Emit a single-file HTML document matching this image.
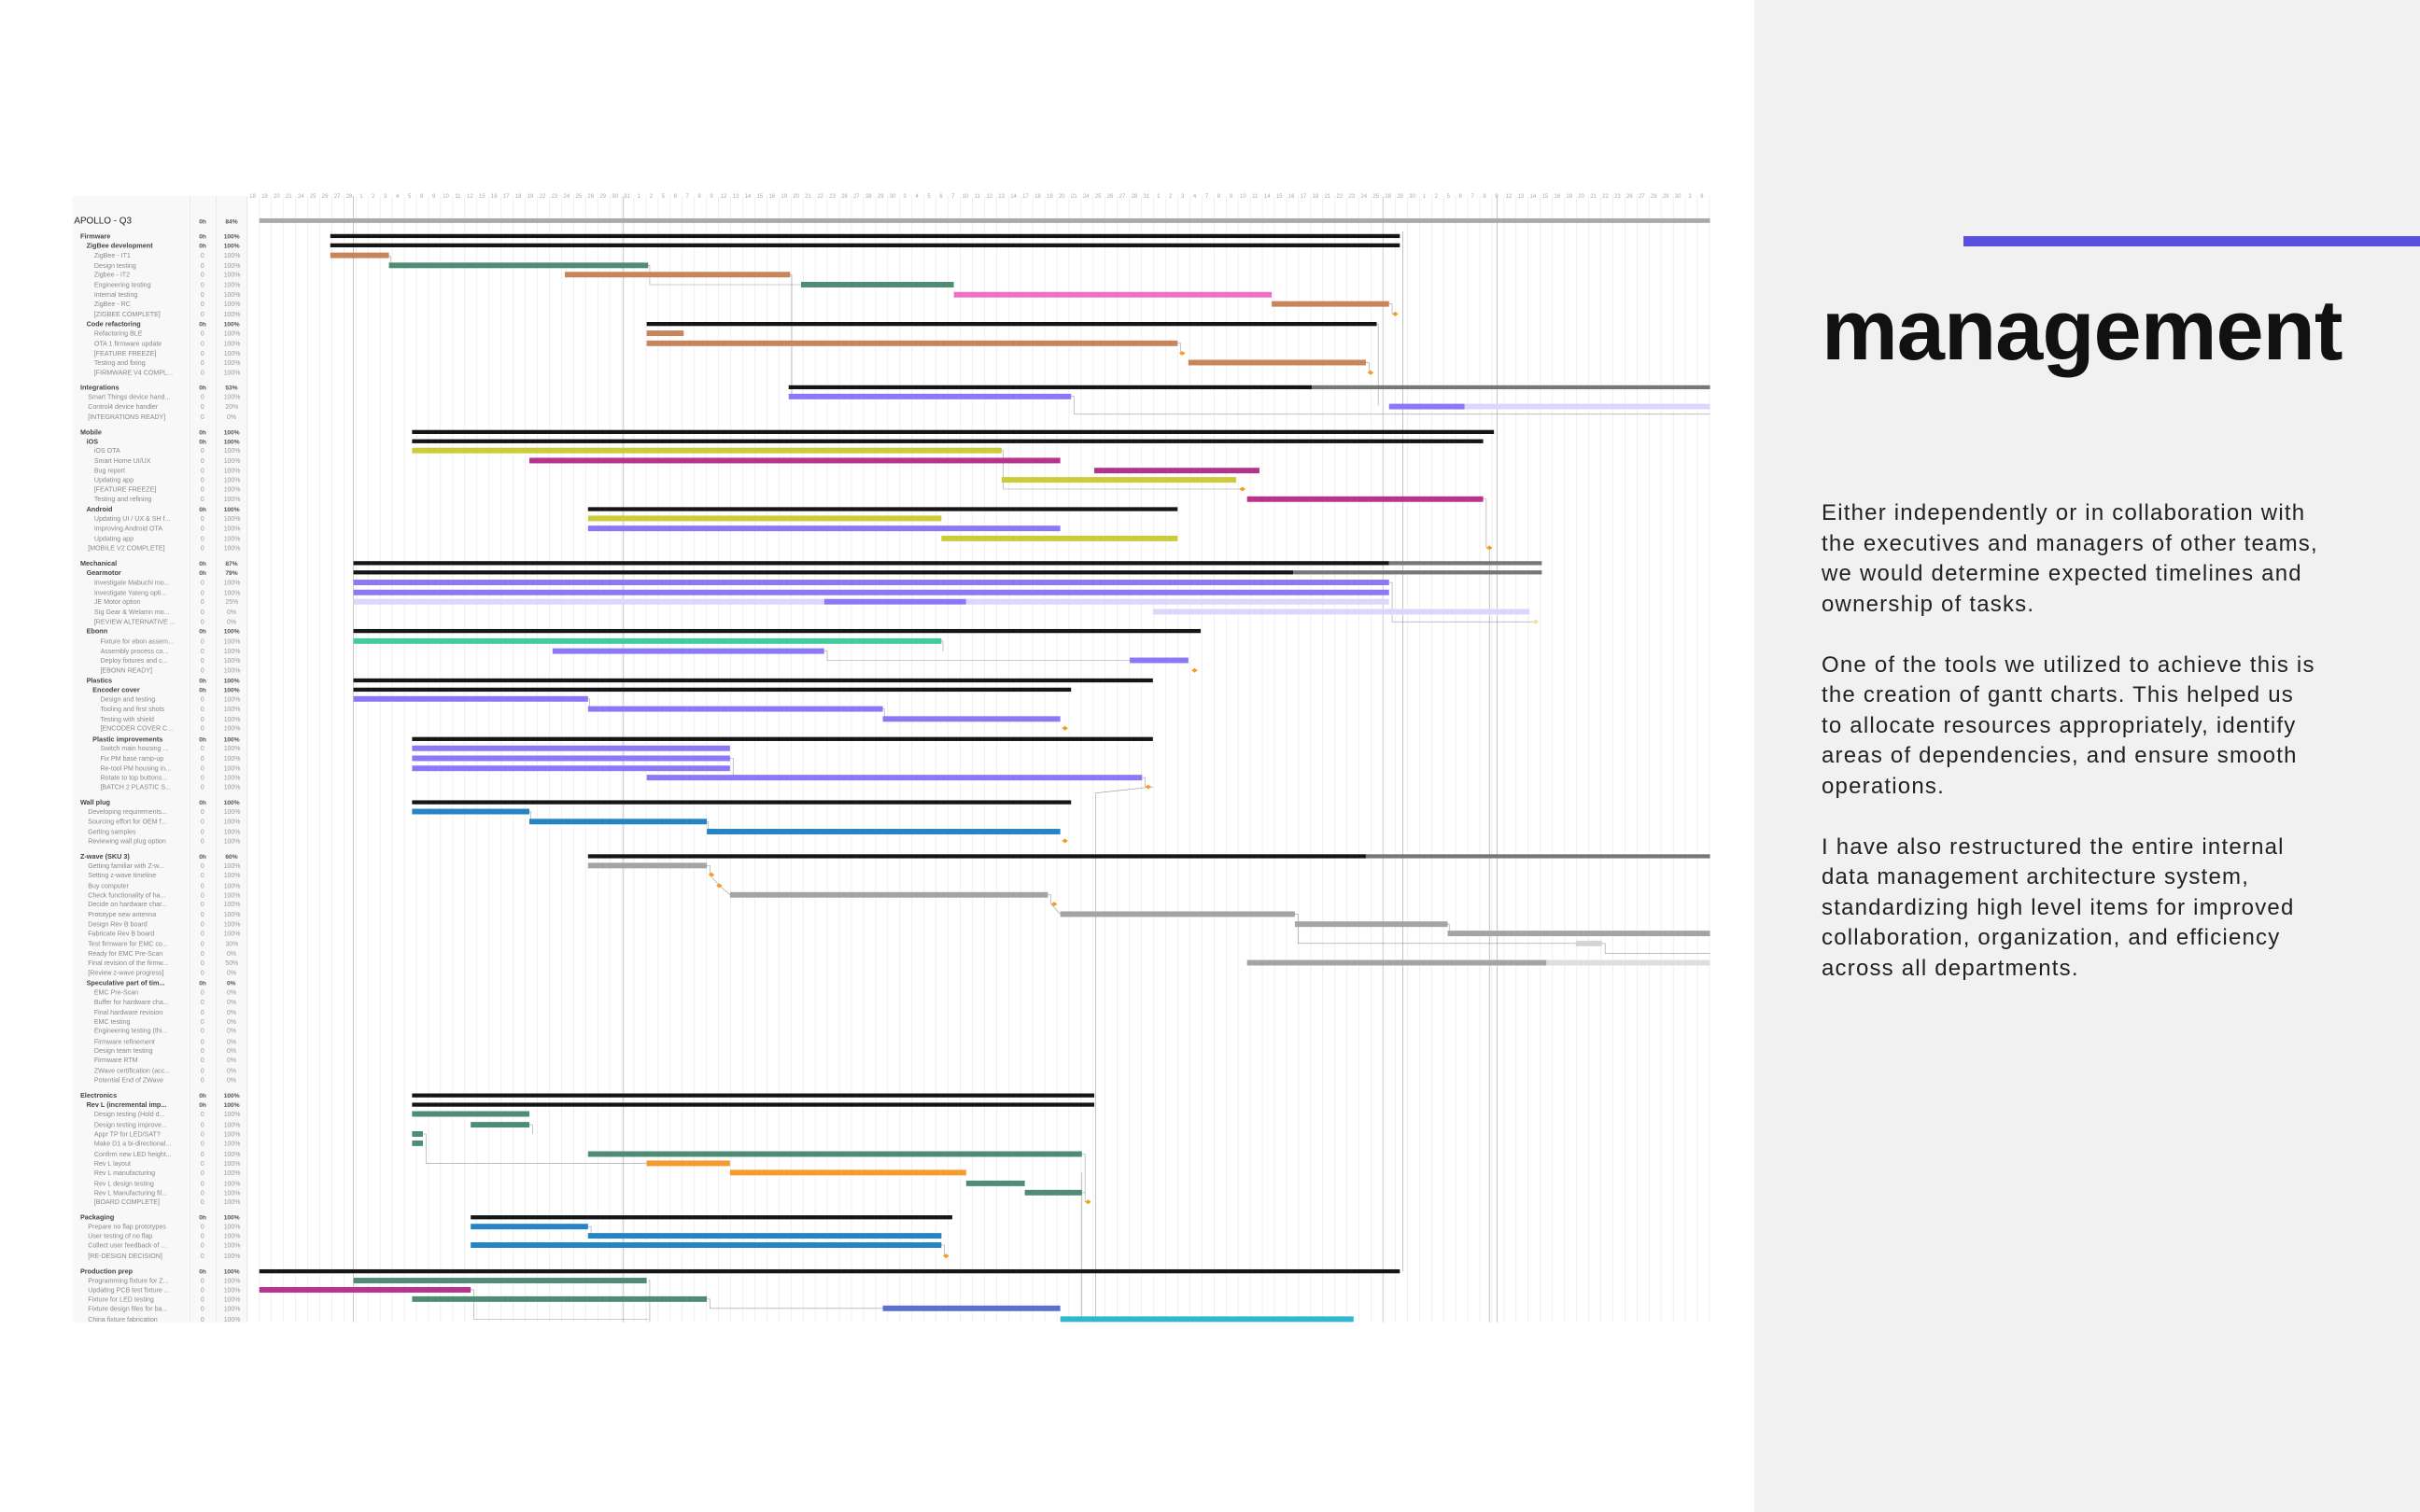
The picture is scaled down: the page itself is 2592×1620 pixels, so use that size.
<!DOCTYPE html>
<html><head><meta charset="utf-8">
<style>
html,body{margin:0;padding:0;}
body{width:2592px;height:1620px;position:relative;background:#fff;overflow:hidden;font-family:"Liberation Sans",sans-serif;}
#panel{position:absolute;left:1879px;top:0;width:713px;height:1620px;background:#f1f1f1;}
#bar{position:absolute;left:2103px;top:253px;width:489px;height:11px;background:#5a4fe0;}
#h{position:absolute;left:1951px;top:308px;font-size:92px;line-height:92px;font-weight:bold;letter-spacing:-1px;color:#111;white-space:nowrap;}
#t{position:absolute;left:1951px;top:534px;font-size:24px;line-height:32.5px;letter-spacing:1.2px;color:#222;white-space:nowrap;}
#days{position:absolute;left:264px;top:208px;display:flex;font-size:6px;color:#aaa;}
#days span{display:block;width:12.95px;text-align:center;}
svg{position:absolute;left:0;top:0;}
.g{font-size:4.4px;font-weight:bold;fill:#444;}
.s{font-size:4.3px;fill:#888;}
.n{font-size:4.2px;fill:#999;}
</style></head><body>
<svg width="2592" height="1620" viewBox="0 0 1568 980">
<defs>
<pattern id="grid" patternUnits="userSpaceOnUse" x="160" y="0" width="7.83" height="10"><line x1="0.2" y1="0" x2="0.2" y2="10" stroke="#e4e4e4" stroke-width="0.35"/></pattern>
</defs>
<rect x="47" y="127" width="113" height="730" fill="#f8f8f8"/>
<line x1="123" y1="127" x2="123" y2="857" stroke="#e2e2e2" stroke-width="0.4"/>
<line x1="140" y1="127" x2="140" y2="857" stroke="#e2e2e2" stroke-width="0.4"/>
<line x1="160" y1="127" x2="160" y2="857" stroke="#e2e2e2" stroke-width="0.4"/>
<rect x="160" y="127" width="948" height="730" fill="url(#grid)"/>
<line x1="229" y1="127" x2="229" y2="857" stroke="#aaa" stroke-width="0.4"/>
<line x1="404" y1="127" x2="404" y2="857" stroke="#aaa" stroke-width="0.4"/>
<line x1="970" y1="127" x2="970" y2="857" stroke="#aaa" stroke-width="0.4"/>
<line x1="896" y1="127" x2="896" y2="857" stroke="#bbb" stroke-width="0.4"/>
<g stroke="#999" stroke-width="0.35" fill="none">
<polyline points="252,166 253,166 253,172"/>
<polyline points="420,172 421,172 421,184.5 519,184.5"/>
<polyline points="512,178 513,178 513,257"/>
<polyline points="694,257 696,257 696,268.5 1108,268.5"/>
<polyline points="900,197 902,197 902,203.5"/>
<polyline points="909,150 909,824"/>
<polyline points="892,210 893,210 893,263"/>
<polyline points="763,222.5 765,222.5 765,229"/>
<polyline points="885,235 887,235 887,241.5"/>
<polyline points="649,292 650,292 650,317 805,317"/>
<polyline points="961,323.5 963,323.5 963,355 965,355 965,857"/>
<polyline points="900,377.5 902,377.5 902,403 995,403"/>
<polyline points="610,415.5 611,415.5 611,422"/>
<polyline points="534,422 536,422 536,428 732,428"/>
<polyline points="381,453 382,453 382,459.5"/>
<polyline points="572,459.5 573,459.5 573,466"/>
<polyline points="473,491.5 475,491.5 475,504"/>
<polyline points="740,504 742,504 742,510"/>
<polyline points="747,510 710,514 710,857"/>
<polyline points="343,526 344,526 344,532.5"/>
<polyline points="458,532.5 459,532.5 459,539"/>
<polyline points="458,561 460,561 460,567 466,574 473,580"/>
<polyline points="679,580 681,580 681,586 687,592.5"/>
<polyline points="839,592.5 841,592.5 841,611.5 1021,611.5"/>
<polyline points="938,599 939,599 939,605"/>
<polyline points="1038,611.5 1040,611.5 1040,618 1108,618"/>
<polyline points="274,735 276,735 276,754 419,754"/>
<polyline points="701,748 703,748 703,779"/>
<polyline points="701,773 703,773"/>
<polyline points="343,729 345,729 345,735"/>
<polyline points="381,795 383,795 383,801"/>
<polyline points="610,807 612,807 612,814"/>
<polyline points="305,836 307,836 307,855 420,855"/>
<polyline points="458,842 460,842 460,848 572,848"/>
<polyline points="420,830 421,830 421,857"/>
<polyline points="701,760 701,857"/>
</g>
<rect x="168" y="141.5" width="940" height="3" fill="#aaa"/>
<g fill="#151515">
<rect x="214" y="151.7" width="693" height="2.6"/>
<rect x="214" y="157.7" width="693" height="2.6"/>
<rect x="419" y="208.7" width="473" height="2.6"/>
<rect x="511" y="249.7" width="339" height="2.6"/>
<rect x="267" y="278.7" width="701" height="2.6"/>
<rect x="267" y="284.7" width="694" height="2.6"/>
<rect x="381" y="328.7" width="382" height="2.6"/>
<rect x="229" y="363.7" width="671" height="2.6"/>
<rect x="229" y="369.7" width="609" height="2.6"/>
<rect x="229" y="407.7" width="549" height="2.6"/>
<rect x="229" y="439.7" width="518" height="2.6"/>
<rect x="229" y="445.7" width="465" height="2.6"/>
<rect x="267" y="477.7" width="480" height="2.6"/>
<rect x="267" y="518.7" width="427" height="2.6"/>
<rect x="381" y="553.7" width="504" height="2.6"/>
<rect x="267" y="708.7" width="442" height="2.6"/>
<rect x="267" y="714.7" width="442" height="2.6"/>
<rect x="305" y="787.7" width="312" height="2.6"/>
<rect x="168" y="822.7" width="739" height="2.6"/>
</g>
<g fill="#777">
<rect x="850" y="249.7" width="258" height="2.6"/>
<rect x="900" y="363.7" width="99" height="2.6"/>
<rect x="838" y="369.7" width="161" height="2.6"/>
<rect x="885" y="553.7" width="223" height="2.6"/>
</g>
<g stroke-width="0.3">
<rect x="214" y="163.7" width="38" height="3.6" fill="#c8845a"/>
<rect x="252" y="170.2" width="168" height="3.6" fill="#4e8c74"/>
<rect x="366" y="176.2" width="146" height="3.6" fill="#c8845a"/>
<rect x="519" y="182.7" width="99" height="3.6" fill="#4e8c74"/>
<rect x="618" y="189.2" width="206" height="3.6" fill="#f070c8"/>
<rect x="824" y="195.2" width="76" height="3.6" fill="#c8845a"/>
<rect x="419" y="214.2" width="24" height="3.6" fill="#c8845a"/>
<rect x="419" y="220.7" width="344" height="3.6" fill="#c8845a"/>
<rect x="770" y="233.2" width="115" height="3.6" fill="#c8845a"/>
<rect x="511" y="255.2" width="183" height="3.6" fill="#8a78f5"/>
<rect x="900" y="261.7" width="49" height="3.6" fill="#8a78f5"/>
<rect x="949" y="261.7" width="159" height="3.6" fill="#dcd5fc"/>
<rect x="267" y="290.2" width="382" height="3.6" fill="#cccc3a"/>
<rect x="343" y="296.7" width="344" height="3.6" fill="#b8348c"/>
<rect x="709" y="303.2" width="107" height="3.6" fill="#b0348c"/>
<rect x="649" y="309.2" width="152" height="3.6" fill="#cccc3a"/>
<rect x="808" y="321.7" width="153" height="3.6" fill="#b8348c"/>
<rect x="381" y="334.2" width="229" height="3.6" fill="#cccc3a"/>
<rect x="381" y="340.7" width="306" height="3.6" fill="#8a78f5"/>
<rect x="610" y="347.2" width="153" height="3.6" fill="#cccc3a"/>
<rect x="229" y="375.7" width="671" height="3.6" fill="#8a78f5"/>
<rect x="229" y="382.2" width="671" height="3.6" fill="#8a78f5"/>
<rect x="534" y="388.2" width="92" height="3.6" fill="#8a78f5"/>
<rect x="626" y="388.2" width="274" height="3.6" fill="#dcd5fc"/>
<rect x="229" y="388.2" width="305" height="3.6" fill="#dcd5fc"/>
<rect x="747" y="394.7" width="244" height="3.6" fill="#dcd5fc"/>
<rect x="229" y="413.7" width="381" height="3.6" fill="#40cc9c"/>
<rect x="358" y="420.2" width="176" height="3.6" fill="#8a78f5"/>
<rect x="732" y="426.2" width="38" height="3.6" fill="#8a78f5"/>
<rect x="229" y="451.2" width="152" height="3.6" fill="#8a78f5"/>
<rect x="381" y="457.7" width="191" height="3.6" fill="#8a78f5"/>
<rect x="572" y="464.2" width="115" height="3.6" fill="#8a78f5"/>
<rect x="267" y="483.2" width="206" height="3.6" fill="#8a78f5"/>
<rect x="267" y="489.7" width="206" height="3.6" fill="#8a78f5"/>
<rect x="267" y="496.2" width="206" height="3.6" fill="#8a78f5"/>
<rect x="419" y="502.2" width="321" height="3.6" fill="#8a78f5"/>
<rect x="267" y="524.2" width="76" height="3.6" fill="#2484c6"/>
<rect x="343" y="530.7" width="115" height="3.6" fill="#2484c6"/>
<rect x="458" y="537.2" width="229" height="3.6" fill="#2484c6"/>
<rect x="381" y="559.2" width="77" height="3.6" fill="#a4a4a4"/>
<rect x="473" y="578.2" width="206" height="3.6" fill="#a4a4a4"/>
<rect x="687" y="590.7" width="152" height="3.6" fill="#a4a4a4"/>
<rect x="839" y="597.2" width="99" height="3.6" fill="#a4a4a4"/>
<rect x="938" y="603.2" width="170" height="3.6" fill="#a4a4a4"/>
<rect x="1021" y="609.7" width="17" height="3.6" fill="#d4d4d4"/>
<rect x="808" y="622.2" width="194" height="3.6" fill="#a4a4a4"/>
<rect x="1002" y="622.2" width="106" height="3.6" fill="#dedede"/>
<rect x="267" y="720.2" width="76" height="3.6" fill="#4e8c74"/>
<rect x="305" y="727.2" width="38" height="3.6" fill="#4e8c74"/>
<rect x="267" y="733.2" width="7" height="3.6" fill="#4e8c74"/>
<rect x="267" y="739.2" width="7" height="3.6" fill="#4e8c74"/>
<rect x="381" y="746.2" width="320" height="3.6" fill="#4e8c74"/>
<rect x="419" y="752.2" width="54" height="3.6" fill="#f59a2c"/>
<rect x="473" y="758.2" width="153" height="3.6" fill="#f59a2c"/>
<rect x="626" y="765.2" width="38" height="3.6" fill="#4e8c74"/>
<rect x="664" y="771.2" width="37" height="3.6" fill="#4e8c74"/>
<rect x="305" y="793.2" width="76" height="3.6" fill="#2484c6"/>
<rect x="381" y="799.2" width="229" height="3.6" fill="#2484c6"/>
<rect x="305" y="805.2" width="305" height="3.6" fill="#2484c6"/>
<rect x="229" y="828.2" width="190" height="3.6" fill="#4e8c74"/>
<rect x="168" y="834.2" width="137" height="3.6" fill="#b8348c"/>
<rect x="267" y="840.2" width="191" height="3.6" fill="#4e8c74"/>
<rect x="572" y="846.2" width="115" height="3.6" fill="#5a6fd0"/>
<rect x="687" y="853.2" width="190" height="3.6" fill="#30b8d0"/>
</g>
<g fill="#f0a020">
<path d="M904 202l2 1.5-2 1.5-2-1.5z"/>
<path d="M766 227.5l2 1.5-2 1.5-2-1.5z"/>
<path d="M888 240l2 1.5-2 1.5-2-1.5z"/>
<path d="M805 315.5l2 1.5-2 1.5-2-1.5z"/>
<path d="M965 353.5l2 1.5-2 1.5-2-1.5z"/>
<path d="M774 433l2 1.5-2 1.5-2-1.5z"/>
<path d="M690 470.5l2 1.5-2 1.5-2-1.5z"/>
<path d="M744 508.5l2 1.5-2 1.5-2-1.5z"/>
<path d="M690 543.5l2 1.5-2 1.5-2-1.5z"/>
<path d="M461 565.5l2 1.5-2 1.5-2-1.5z"/>
<path d="M466 572.5l2 1.5-2 1.5-2-1.5z"/>
<path d="M683 584.5l2 1.5-2 1.5-2-1.5z"/>
<path d="M705 777.5l2 1.5-2 1.5-2-1.5z"/>
<path d="M613 812.5l2 1.5-2 1.5-2-1.5z"/>
</g>
<path d="M995 401.5l2 1.5-2 1.5-2-1.5z" fill="#fbd9a0"/>
<text x="48" y="145" style="font-size:6px;fill:#222">APOLLO - Q3</text>
<g class="g">
<text x="52" y="154.5">Firmware</text>
<text x="52" y="252.5">Integrations</text>
<text x="52" y="281.5">Mobile</text>
<text x="52" y="366.5">Mechanical</text>
<text x="52" y="521.5">Wall plug</text>
<text x="52" y="556.5">Z-wave (SKU 3)</text>
<text x="52" y="711.5">Electronics</text>
<text x="52" y="790.5">Packaging</text>
<text x="52" y="825.5">Production prep</text>
<text x="56" y="160.5">ZigBee development</text>
<text x="56" y="211.5">Code refactoring</text>
<text x="56" y="287.5">iOS</text>
<text x="56" y="331.5">Android</text>
<text x="56" y="372.5">Gearmotor</text>
<text x="56" y="410.5">Ebonn</text>
<text x="56" y="442.5">Plastics</text>
<text x="60" y="448.5">Encoder cover</text>
<text x="60" y="480.5">Plastic improvements</text>
<text x="56" y="638.5">Speculative part of tim...</text>
<text x="56" y="717.5">Rev L (incremental imp...</text>
</g>
<g class="s">
<text x="61" y="167">ZigBee - IT1</text>
<text x="61" y="173.5">Design testing</text>
<text x="61" y="179.5">Zigbee - IT2</text>
<text x="61" y="186">Engineering testing</text>
<text x="61" y="192.5">Internal testing</text>
<text x="61" y="198.5">ZigBee - RC</text>
<text x="61" y="205">[ZIGBEE COMPLETE]</text>
<text x="61" y="217.5">Refactoring BLE</text>
<text x="61" y="224">OTA 1 firmware update</text>
<text x="61" y="230.5">[FEATURE FREEZE]</text>
<text x="61" y="236.5">Testing and fixing</text>
<text x="61" y="243">[FIRMWARE V4 COMPL...</text>
<text x="57" y="258.5">Smart Things device hand...</text>
<text x="57" y="265">Control4 device handler</text>
<text x="57" y="271.5">[INTEGRATIONS READY]</text>
<text x="61" y="293.5">iOS OTA</text>
<text x="61" y="300">Smart Home UI/UX</text>
<text x="61" y="306.5">Bug report</text>
<text x="61" y="312.5">Updating app</text>
<text x="61" y="318.5">[FEATURE FREEZE]</text>
<text x="61" y="325">Testing and refining</text>
<text x="61" y="337.5">Updating UI / UX &amp; SH f...</text>
<text x="61" y="344">Improving Android OTA</text>
<text x="61" y="350.5">Updating app</text>
<text x="57" y="356.5">[MOBILE V2 COMPLETE]</text>
<text x="61" y="379">Investigate Mabuchi mo...</text>
<text x="61" y="385.5">Investigate Yateng opti...</text>
<text x="61" y="391.5">JE Motor option</text>
<text x="61" y="398">SIg Gear &amp; Welamn mo...</text>
<text x="61" y="404.5">[REVIEW ALTERNATIVE ...</text>
<text x="65" y="417">Fixture for ebon assem...</text>
<text x="65" y="423.5">Assembly process co...</text>
<text x="65" y="429.5">Deploy fixtures and c...</text>
<text x="65" y="436">[EBONN READY]</text>
<text x="65" y="454.5">Design and testing</text>
<text x="65" y="461">Tooling and first shots</text>
<text x="65" y="467.5">Testing with shield</text>
<text x="65" y="473.5">[ENCODER COVER C...</text>
<text x="65" y="486.5">Switch main housing ...</text>
<text x="65" y="493">Fix PM base ramp-up</text>
<text x="65" y="499.5">Re-tool PM housing in...</text>
<text x="65" y="505.5">Rotate to top buttons...</text>
<text x="65" y="511.5">[BATCH  2 PLASTIC S...</text>
<text x="57" y="527.5">Developing requirements...</text>
<text x="57" y="534">Sourcing effort for OEM f...</text>
<text x="57" y="540.5">Getting samples</text>
<text x="57" y="546.5">Reviewing wall plug option</text>
<text x="57" y="562.5">Getting familiar with Z-w...</text>
<text x="57" y="568.5">Setting z-wave timeline</text>
<text x="57" y="575.5">Buy computer</text>
<text x="57" y="581.5">Check functionality of ha...</text>
<text x="57" y="587.5">Decide on hardware char...</text>
<text x="57" y="594">Prototype new antenna</text>
<text x="57" y="600.5">Design Rev B board</text>
<text x="57" y="606.5">Fabricate Rev B board</text>
<text x="57" y="613">Test firmware for EMC co...</text>
<text x="57" y="619.5">Ready for EMC Pre-Scan</text>
<text x="57" y="625.5">Final revision of the firmw...</text>
<text x="57" y="632">[Review z-wave progress]</text>
<text x="61" y="644.5">EMC Pre-Scan</text>
<text x="61" y="651">Buffer for hardware cha...</text>
<text x="61" y="657.5">Final hardware revision</text>
<text x="61" y="663.5">EMC testing</text>
<text x="61" y="669.5">Engineering testing (thi...</text>
<text x="61" y="676.5">Firmware refinement</text>
<text x="61" y="682.5">Design team testing</text>
<text x="61" y="688.5">Firmware RTM</text>
<text x="61" y="695.5">ZWave certification (acc...</text>
<text x="61" y="701.5">Potential End of ZWave</text>
<text x="61" y="723.5">Design testing (Hold d...</text>
<text x="61" y="730.5">Design testing improve...</text>
<text x="61" y="736.5">Appr TP for LED/SAT?</text>
<text x="61" y="742.5">Make D1 a bi-directional...</text>
<text x="61" y="749.5">Confirm new LED height...</text>
<text x="61" y="755.5">Rev L layout</text>
<text x="61" y="761.5">Rev L manufacturing</text>
<text x="61" y="768.5">Rev L design testing</text>
<text x="61" y="774.5">Rev L Manufacturing fil...</text>
<text x="61" y="780.5">[BOARD COMPLETE]</text>
<text x="57" y="796.5">Prepare no flap prototypes</text>
<text x="57" y="802.5">User testing of no flap</text>
<text x="57" y="808.5">Collect user feedback of ...</text>
<text x="57" y="815.5">[RE-DESIGN DECISION]</text>
<text x="57" y="831.5">Programming fixture for Z...</text>
<text x="57" y="837.5">Updating PCB test fixture ...</text>
<text x="57" y="843.5">Fixture for LED testing</text>
<text x="57" y="849.5">Fixture design files for ba...</text>
<text x="57" y="856.5">China fixture fabrication</text>
</g>
<g class="g" style="font-size:4px;font-weight:bold;fill:#555">
<text x="129" y="145">0h</text><text x="146" y="145">84%</text>
<text x="129" y="154.5">0h</text><text x="145" y="154.5">100%</text>
<text x="129" y="160.5">0h</text><text x="145" y="160.5">100%</text>
<text x="129" y="211.5">0h</text><text x="145" y="211.5">100%</text>
<text x="129" y="252.5">0h</text><text x="146" y="252.5">53%</text>
<text x="129" y="281.5">0h</text><text x="145" y="281.5">100%</text>
<text x="129" y="287.5">0h</text><text x="145" y="287.5">100%</text>
<text x="129" y="331.5">0h</text><text x="145" y="331.5">100%</text>
<text x="129" y="366.5">0h</text><text x="146" y="366.5">87%</text>
<text x="129" y="372.5">0h</text><text x="146" y="372.5">79%</text>
<text x="129" y="410.5">0h</text><text x="145" y="410.5">100%</text>
<text x="129" y="442.5">0h</text><text x="145" y="442.5">100%</text>
<text x="129" y="448.5">0h</text><text x="145" y="448.5">100%</text>
<text x="129" y="480.5">0h</text><text x="145" y="480.5">100%</text>
<text x="129" y="521.5">0h</text><text x="145" y="521.5">100%</text>
<text x="129" y="556.5">0h</text><text x="146" y="556.5">60%</text>
<text x="129" y="638.5">0h</text><text x="147" y="638.5">0%</text>
<text x="129" y="711.5">0h</text><text x="145" y="711.5">100%</text>
<text x="129" y="717.5">0h</text><text x="145" y="717.5">100%</text>
<text x="129" y="790.5">0h</text><text x="145" y="790.5">100%</text>
<text x="129" y="825.5">0h</text><text x="145" y="825.5">100%</text>
</g>
<g class="n">
<text x="130" y="167">0</text><text x="145" y="167">100%</text>
<text x="130" y="173.5">0</text><text x="145" y="173.5">100%</text>
<text x="130" y="179.5">0</text><text x="145" y="179.5">100%</text>
<text x="130" y="186">0</text><text x="145" y="186">100%</text>
<text x="130" y="192.5">0</text><text x="145" y="192.5">100%</text>
<text x="130" y="198.5">0</text><text x="145" y="198.5">100%</text>
<text x="130" y="205">0</text><text x="145" y="205">100%</text>
<text x="130" y="217.5">0</text><text x="145" y="217.5">100%</text>
<text x="130" y="224">0</text><text x="145" y="224">100%</text>
<text x="130" y="230.5">0</text><text x="145" y="230.5">100%</text>
<text x="130" y="236.5">0</text><text x="145" y="236.5">100%</text>
<text x="130" y="243">0</text><text x="145" y="243">100%</text>
<text x="130" y="258.5">0</text><text x="145" y="258.5">100%</text>
<text x="130" y="265">0</text><text x="146" y="265">20%</text>
<text x="130" y="271.5">0</text><text x="147" y="271.5">0%</text>
<text x="130" y="293.5">0</text><text x="145" y="293.5">100%</text>
<text x="130" y="300">0</text><text x="145" y="300">100%</text>
<text x="130" y="306.5">0</text><text x="145" y="306.5">100%</text>
<text x="130" y="312.5">0</text><text x="145" y="312.5">100%</text>
<text x="130" y="318.5">0</text><text x="145" y="318.5">100%</text>
<text x="130" y="325">0</text><text x="145" y="325">100%</text>
<text x="130" y="337.5">0</text><text x="145" y="337.5">100%</text>
<text x="130" y="344">0</text><text x="145" y="344">100%</text>
<text x="130" y="350.5">0</text><text x="145" y="350.5">100%</text>
<text x="130" y="356.5">0</text><text x="145" y="356.5">100%</text>
<text x="130" y="379">0</text><text x="145" y="379">100%</text>
<text x="130" y="385.5">0</text><text x="145" y="385.5">100%</text>
<text x="130" y="391.5">0</text><text x="146" y="391.5">25%</text>
<text x="130" y="398">0</text><text x="147" y="398">0%</text>
<text x="130" y="404.5">0</text><text x="147" y="404.5">0%</text>
<text x="130" y="417">0</text><text x="145" y="417">100%</text>
<text x="130" y="423.5">0</text><text x="145" y="423.5">100%</text>
<text x="130" y="429.5">0</text><text x="145" y="429.5">100%</text>
<text x="130" y="436">0</text><text x="145" y="436">100%</text>
<text x="130" y="454.5">0</text><text x="145" y="454.5">100%</text>
<text x="130" y="461">0</text><text x="145" y="461">100%</text>
<text x="130" y="467.5">0</text><text x="145" y="467.5">100%</text>
<text x="130" y="473.5">0</text><text x="145" y="473.5">100%</text>
<text x="130" y="486.5">0</text><text x="145" y="486.5">100%</text>
<text x="130" y="493">0</text><text x="145" y="493">100%</text>
<text x="130" y="499.5">0</text><text x="145" y="499.5">100%</text>
<text x="130" y="505.5">0</text><text x="145" y="505.5">100%</text>
<text x="130" y="511.5">0</text><text x="145" y="511.5">100%</text>
<text x="130" y="527.5">0</text><text x="145" y="527.5">100%</text>
<text x="130" y="534">0</text><text x="145" y="534">100%</text>
<text x="130" y="540.5">0</text><text x="145" y="540.5">100%</text>
<text x="130" y="546.5">0</text><text x="145" y="546.5">100%</text>
<text x="130" y="562.5">0</text><text x="145" y="562.5">100%</text>
<text x="130" y="568.5">0</text><text x="145" y="568.5">100%</text>
<text x="130" y="575.5">0</text><text x="145" y="575.5">100%</text>
<text x="130" y="581.5">0</text><text x="145" y="581.5">100%</text>
<text x="130" y="587.5">0</text><text x="145" y="587.5">100%</text>
<text x="130" y="594">0</text><text x="145" y="594">100%</text>
<text x="130" y="600.5">0</text><text x="145" y="600.5">100%</text>
<text x="130" y="606.5">0</text><text x="145" y="606.5">100%</text>
<text x="130" y="613">0</text><text x="146" y="613">30%</text>
<text x="130" y="619.5">0</text><text x="147" y="619.5">0%</text>
<text x="130" y="625.5">0</text><text x="146" y="625.5">50%</text>
<text x="130" y="632">0</text><text x="147" y="632">0%</text>
<text x="130" y="644.5">0</text><text x="147" y="644.5">0%</text>
<text x="130" y="651">0</text><text x="147" y="651">0%</text>
<text x="130" y="657.5">0</text><text x="147" y="657.5">0%</text>
<text x="130" y="663.5">0</text><text x="147" y="663.5">0%</text>
<text x="130" y="669.5">0</text><text x="147" y="669.5">0%</text>
<text x="130" y="676.5">0</text><text x="147" y="676.5">0%</text>
<text x="130" y="682.5">0</text><text x="147" y="682.5">0%</text>
<text x="130" y="688.5">0</text><text x="147" y="688.5">0%</text>
<text x="130" y="695.5">0</text><text x="147" y="695.5">0%</text>
<text x="130" y="701.5">0</text><text x="147" y="701.5">0%</text>
<text x="130" y="723.5">0</text><text x="145" y="723.5">100%</text>
<text x="130" y="730.5">0</text><text x="145" y="730.5">100%</text>
<text x="130" y="736.5">0</text><text x="145" y="736.5">100%</text>
<text x="130" y="742.5">0</text><text x="145" y="742.5">100%</text>
<text x="130" y="749.5">0</text><text x="145" y="749.5">100%</text>
<text x="130" y="755.5">0</text><text x="145" y="755.5">100%</text>
<text x="130" y="761.5">0</text><text x="145" y="761.5">100%</text>
<text x="130" y="768.5">0</text><text x="145" y="768.5">100%</text>
<text x="130" y="774.5">0</text><text x="145" y="774.5">100%</text>
<text x="130" y="780.5">0</text><text x="145" y="780.5">100%</text>
<text x="130" y="796.5">0</text><text x="145" y="796.5">100%</text>
<text x="130" y="802.5">0</text><text x="145" y="802.5">100%</text>
<text x="130" y="808.5">0</text><text x="145" y="808.5">100%</text>
<text x="130" y="815.5">0</text><text x="145" y="815.5">100%</text>
<text x="130" y="831.5">0</text><text x="145" y="831.5">100%</text>
<text x="130" y="837.5">0</text><text x="145" y="837.5">100%</text>
<text x="130" y="843.5">0</text><text x="145" y="843.5">100%</text>
<text x="130" y="849.5">0</text><text x="145" y="849.5">100%</text>
<text x="130" y="856.5">0</text><text x="145" y="856.5">100%</text>
</g>
</svg>
<div id="days"><span>18</span><span>19</span><span>20</span><span>21</span><span>24</span><span>25</span><span>26</span><span>27</span><span>28</span><span>1</span><span>2</span><span>3</span><span>4</span><span>5</span><span>8</span><span>9</span><span>10</span><span>11</span><span>12</span><span>15</span><span>16</span><span>17</span><span>18</span><span>19</span><span>22</span><span>23</span><span>24</span><span>25</span><span>26</span><span>29</span><span>30</span><span>31</span><span>1</span><span>2</span><span>5</span><span>6</span><span>7</span><span>8</span><span>9</span><span>12</span><span>13</span><span>14</span><span>15</span><span>16</span><span>19</span><span>20</span><span>21</span><span>22</span><span>23</span><span>26</span><span>27</span><span>28</span><span>29</span><span>30</span><span>3</span><span>4</span><span>5</span><span>6</span><span>7</span><span>10</span><span>11</span><span>12</span><span>13</span><span>14</span><span>17</span><span>18</span><span>19</span><span>20</span><span>21</span><span>24</span><span>25</span><span>26</span><span>27</span><span>28</span><span>31</span><span>1</span><span>2</span><span>3</span><span>4</span><span>7</span><span>8</span><span>9</span><span>10</span><span>11</span><span>14</span><span>15</span><span>16</span><span>17</span><span>18</span><span>21</span><span>22</span><span>23</span><span>24</span><span>25</span><span>28</span><span>29</span><span>30</span><span>1</span><span>2</span><span>5</span><span>6</span><span>7</span><span>8</span><span>9</span><span>12</span><span>13</span><span>14</span><span>15</span><span>16</span><span>19</span><span>20</span><span>21</span><span>22</span><span>23</span><span>26</span><span>27</span><span>28</span><span>29</span><span>30</span><span>3</span><span>6</span></div>
<div id="panel"></div>
<div id="bar"></div>
<div id="h">management</div>
<div id="t">Either independently or in collaboration with<br>the executives and managers of other teams,<br>we would determine expected timelines and<br>ownership of tasks.<br><br>One of the tools we utilized to achieve this is<br>the creation of gantt charts. This helped us<br>to allocate resources appropriately, identify<br>areas of dependencies, and ensure smooth<br>operations.<br><br>I have also restructured the entire internal<br>data management architecture system,<br>standardizing high level items for improved<br>collaboration, organization, and efficiency<br>across all departments.</div>
</body></html>
